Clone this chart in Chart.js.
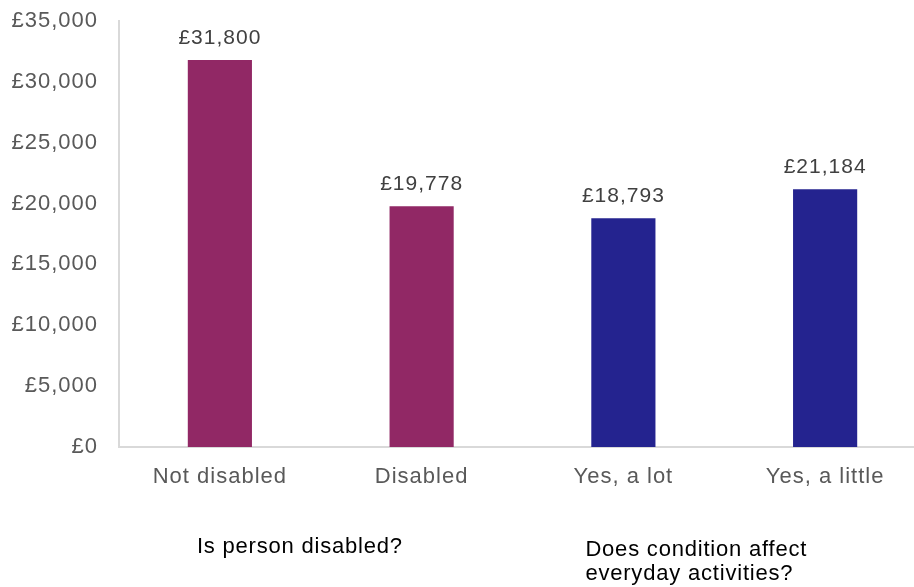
<!DOCTYPE html>
<html>
<head>
<meta charset="utf-8">
<script src="https://cdn.jsdelivr.net/npm/chart.js@4.4.1/dist/chart.umd.min.js"></script>
<style>
  html, body { margin: 0; padding: 0; background: #fff; overflow: hidden; }
  #wrap { position: relative; width: 926px; height: 587px; }
</style>
</head>
<body>
<div id="wrap"><canvas id="c"></canvas></div>
<script>
// Median income by disability status
const categories = ['Not disabled', 'Disabled', 'Yes, a lot', 'Yes, a little'];
const incomes = [31800, 19778, 18793, 21184];
const barColours = ['#912865', '#912865', '#24238F', '#24238F'];
const yTicks = [0, 5000, 10000, 15000, 20000, 25000, 30000, 35000];
const groupTitles = [
  { from: 0, lines: ['Is person disabled?'] },
  { from: 2, lines: ['Does condition affect', 'everyday activities?'] }
];

const FONT = '"Liberation Sans", Arial, sans-serif';
const money = v => '£' + Number(v).toLocaleString('en-GB');

// slightly open tracking for all axis text
const tracking = {
  id: 'tracking',
  beforeDraw(chart) { chart.ctx.letterSpacing = '1px'; }
};

// value labels above each bar
const valueLabels = {
  id: 'valueLabels',
  afterDatasetsDraw(chart) {
    const ctx = chart.ctx;
    const meta = chart.getDatasetMeta(0);
    ctx.save();
    ctx.letterSpacing = '1px';
    ctx.font = '21px ' + FONT;
    ctx.fillStyle = '#404040';
    ctx.textAlign = 'center';
    ctx.textBaseline = 'alphabetic';
    meta.data.forEach((bar, i) => {
      ctx.fillText(money(incomes[i]), bar.x, bar.y - 16);
    });
    ctx.restore();
  }
};

// group headings under the category axis
const groupLabels = {
  id: 'groupLabels',
  afterDraw(chart) {
    const ctx = chart.ctx;
    const x = chart.scales.x;
    const offsets = [-23, -38];
    const baselines = [553, 556];
    ctx.save();
    ctx.letterSpacing = '0.8px';
    ctx.font = '22px ' + FONT;
    ctx.fillStyle = '#000000';
    ctx.textAlign = 'left';
    ctx.textBaseline = 'alphabetic';
    groupTitles.forEach((g, gi) => {
      const left = x.getPixelForValue(g.from) + offsets[gi];
      g.lines.forEach((line, li) => {
        ctx.fillText(line, left, baselines[gi] + li * 24);
      });
    });
    ctx.restore();
  }
};

new Chart(document.getElementById('c'), {
  type: 'bar',
  data: {
    labels: categories,
    datasets: [{
      data: incomes,
      backgroundColor: barColours,
      borderWidth: 0,
      categoryPercentage: 1,
      barPercentage: 0.318
    }]
  },
  options: {
    responsive: true,
    maintainAspectRatio: false,
    animation: false,
    layout: { padding: { top: 21, right: 0, left: 0, bottom: 0 } },
    plugins: { legend: { display: false }, tooltip: { enabled: false } },
    scales: {
      x: {
        grid: { display: false, drawTicks: false },
        border: { display: true, color: '#d9d9d9', width: 2 },
        ticks: { color: '#595959', font: { family: FONT, size: 22 }, padding: 17, maxRotation: 0 },
        afterFit(scale) {
          scale.height = 140;
          scale.paddingLeft = 0;
          scale.paddingRight = 0;
        }
      },
      y: {
        min: 0,
        max: 35000,
        afterBuildTicks(scale) { scale.ticks = yTicks.map(v => ({ value: v })); },
        grid: { display: false, drawTicks: false },
        border: { display: true, color: '#d9d9d9', width: 2 },
        ticks: {
          color: '#595959',
          font: { family: FONT, size: 22 },
          padding: 21,
          callback: v => money(v)
        },
        afterFit(scale) {
          scale.width = 119;
          scale.paddingTop = 0;
          scale.paddingBottom = 0;
        }
      }
    }
  },
  plugins: [tracking, valueLabels, groupLabels]
});
</script>
</body>
</html>
